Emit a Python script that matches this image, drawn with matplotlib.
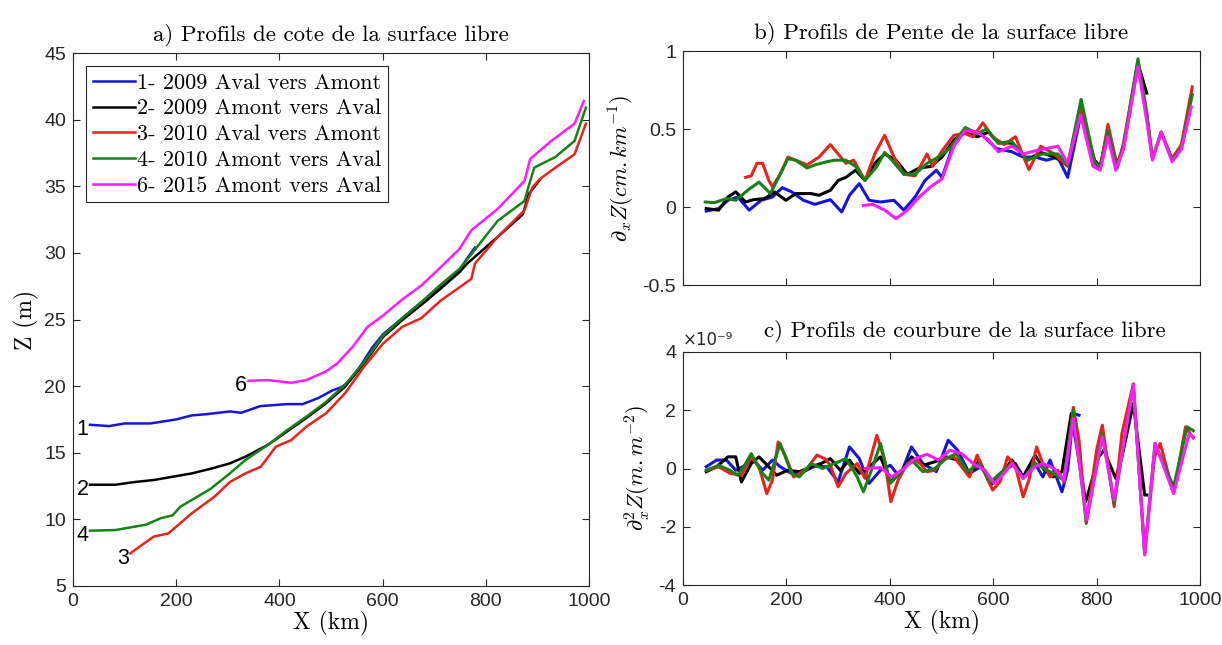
import numpy as np
import matplotlib
matplotlib.use("Agg")
import matplotlib.pyplot as plt

plt.rcParams['mathtext.fontset'] = 'cm'
plt.rcParams['axes.unicode_minus'] = False

SERIF = 'cmr10'
SANS = 'Liberation Sans'

colors = ['#1515d8', '#000000', '#e8231b', '#168216', '#ff1aff']
labels = ['1- 2009 Aval vers Amont', '2- 2009 Amont vers Aval', '3- 2010 Aval vers Amont',
          '4- 2010 Amont vers Aval', '6- 2015 Amont vers Aval']
tags = ['1', '2', '3', '4', '6']

# a) water surface elevation Z (m) vs X (km)
xa1 = [33, 70, 100, 150, 200, 230, 260, 304, 326, 363, 415, 445, 475, 504, 519, 534, 556, 580, 601, 638, 675, 712, 749, 764, 779]
za1 = [17.1, 17.0, 17.2, 17.2, 17.5, 17.8, 17.9, 18.1, 18.0, 18.5, 18.65, 18.65, 19.1, 19.7, 19.9, 20.3, 21.45, 22.9, 23.9, 25.1, 26.3, 27.5, 28.7, 29.6, 30.4]
xa2 = [33, 82, 119, 156, 193, 230, 267, 304, 334, 378, 415, 452, 490, 527, 564, 601, 638, 675, 712, 749, 764, 823, 872, 883, 905]
za2 = [12.6, 12.6, 12.8, 12.95, 13.2, 13.45, 13.8, 14.2, 14.7, 15.6, 16.6, 17.6, 18.7, 19.95, 21.7, 23.7, 24.95, 26.1, 27.3, 28.55, 29.2, 31.2, 32.9, 34.4, 35.5]
xa3 = [111, 156, 185, 230, 274, 304, 334, 364, 393, 423, 452, 490, 527, 564, 601, 638, 675, 712, 772, 779, 823, 875, 890, 905, 935, 972, 994]
za3 = [7.45, 8.7, 8.95, 10.45, 11.7, 12.8, 13.45, 13.95, 15.45, 15.95, 16.95, 17.95, 19.45, 21.45, 23.2, 24.45, 25.1, 26.4, 28.05, 29.2, 31.2, 33.2, 34.9, 35.55, 36.4, 37.4, 39.7]
xa4 = [33, 82, 119, 141, 171, 193, 208, 230, 267, 304, 334, 378, 415, 452, 490, 527, 564, 601, 638, 675, 712, 749, 772, 823, 875, 883, 894, 935, 972, 994]
za4 = [9.15, 9.2, 9.45, 9.6, 10.1, 10.3, 10.95, 11.45, 12.3, 13.45, 14.45, 15.6, 16.7, 17.7, 18.8, 20.1, 21.8, 23.8, 25.1, 26.3, 27.6, 28.8, 29.9, 32.4, 33.9, 35.0, 36.4, 37.2, 38.4, 40.9]
xa6 = [340, 378, 423, 452, 490, 512, 542, 571, 601, 638, 675, 712, 749, 772, 823, 875, 886, 927, 972, 990]
za6 = [20.4, 20.45, 20.25, 20.45, 21.1, 21.7, 22.95, 24.45, 25.3, 26.5, 27.55, 28.9, 30.3, 31.7, 33.3, 35.4, 37.05, 38.4, 39.7, 41.4]

# b) slope (cm/km)
xb1 = [45, 69, 87, 106, 128, 151, 173, 192, 210, 233, 255, 285, 307, 322, 341, 360, 382, 408, 427, 449, 468, 490, 501, 524, 546, 576, 606, 636, 658, 681, 703, 725, 744, 770]
yb1 = [-0.026, -0.01, 0.043, 0.064, -0.02, 0.043, 0.064, 0.124, 0.097, 0.043, 0.017, 0.047, -0.032, 0.075, 0.15, 0.043, 0.032, 0.043, -0.02, 0.064, 0.17, 0.236, 0.19, 0.41, 0.5, 0.47, 0.375, 0.354, 0.32, 0.32, 0.3, 0.32, 0.19, 0.6]
xb2 = [45, 69, 87, 102, 121, 136, 158, 177, 199, 218, 248, 263, 285, 300, 315, 334, 352, 371, 390, 412, 434, 457, 479, 501, 524, 546, 569, 591, 610, 636, 666, 692, 718, 744, 770, 796, 807, 822, 837, 852, 880, 897]
yb2 = [-0.01, -0.02, 0.064, 0.097, 0.032, 0.047, 0.054, 0.097, 0.043, 0.086, 0.086, 0.075, 0.107, 0.17, 0.19, 0.236, 0.17, 0.28, 0.34, 0.3, 0.21, 0.25, 0.26, 0.32, 0.43, 0.48, 0.45, 0.48, 0.41, 0.41, 0.3, 0.35, 0.32, 0.27, 0.62, 0.3, 0.26, 0.5, 0.26, 0.38, 0.92, 0.73]
xb3 = [121, 132, 143, 154, 166, 173, 188, 203, 218, 240, 263, 285, 300, 315, 330, 352, 371, 390, 408, 427, 449, 472, 483, 501, 524, 546, 561, 580, 599, 621, 643, 669, 692, 718, 744, 770, 796, 807, 822, 840, 852, 880, 897, 908, 925, 946, 964, 985]
yb3 = [0.19, 0.2, 0.28, 0.28, 0.17, 0.13, 0.21, 0.32, 0.3, 0.27, 0.32, 0.4, 0.34, 0.28, 0.3, 0.17, 0.34, 0.46, 0.32, 0.21, 0.2, 0.34, 0.26, 0.36, 0.46, 0.47, 0.45, 0.54, 0.45, 0.4, 0.45, 0.24, 0.39, 0.34, 0.26, 0.65, 0.28, 0.25, 0.53, 0.26, 0.41, 0.93, 0.6, 0.31, 0.48, 0.31, 0.4, 0.77]
xb4 = [43, 61, 84, 102, 125, 147, 169, 188, 203, 218, 240, 255, 278, 293, 315, 334, 352, 375, 390, 404, 427, 449, 472, 494, 516, 546, 569, 587, 610, 636, 666, 695, 725, 744, 770, 796, 807, 822, 840, 852, 880, 897, 908, 925, 946, 964, 985]
yb4 = [0.032, 0.028, 0.054, 0.043, 0.107, 0.16, 0.086, 0.21, 0.31, 0.3, 0.25, 0.27, 0.29, 0.3, 0.3, 0.26, 0.17, 0.26, 0.35, 0.3, 0.21, 0.21, 0.28, 0.32, 0.375, 0.51, 0.47, 0.5, 0.41, 0.42, 0.3, 0.34, 0.34, 0.27, 0.69, 0.29, 0.25, 0.49, 0.25, 0.39, 0.95, 0.6, 0.31, 0.48, 0.3, 0.38, 0.72]
xb6 = [349, 367, 390, 412, 434, 457, 479, 501, 524, 546, 569, 591, 610, 636, 658, 681, 703, 725, 744, 769, 793, 807, 822, 837, 852, 880, 897, 908, 925, 946, 964, 983]
yb6 = [0.01, 0.017, -0.02, -0.075, -0.02, 0.064, 0.13, 0.18, 0.39, 0.49, 0.48, 0.43, 0.354, 0.39, 0.34, 0.36, 0.375, 0.39, 0.28, 0.59, 0.26, 0.236, 0.45, 0.236, 0.37, 0.9, 0.55, 0.3, 0.48, 0.29, 0.37, 0.64]

# c) curvature (x 1e-9 m/m^2)
xc1 = [45, 65, 84, 102, 121, 136, 154, 173, 188, 210, 233, 255, 278, 300, 322, 341, 360, 382, 401, 419, 442, 464, 490, 513, 531, 554, 576, 599, 621, 643, 658, 677, 696, 710, 733, 744, 755, 766]
yc1 = [0.06, 0.29, 0.29, -0.06, 0.11, 0.31, -0.06, 0.29, 0.06, -0.17, -0.11, 0.08, 0.06, -0.46, 0.74, 0.34, -0.51, -0.06, 0.11, -0.29, 0.74, 0.17, -0.11, 0.97, 0.63, -0.17, 0.06, -0.51, -0.06, 0.17, -0.29, 0.29, -0.29, 0.29, -0.8, -0.06, 1.89, 1.83]
xc2 = [45, 65, 87, 102, 113, 132, 147, 166, 181, 203, 225, 248, 267, 285, 304, 322, 341, 360, 382, 401, 419, 442, 464, 487, 509, 531, 554, 573, 595, 613, 636, 658, 681, 699, 716, 733, 751, 779, 804, 814, 837, 849, 871, 893, 897]
yc2 = [-0.11, 0.06, 0.4, 0.4, -0.46, 0.17, 0.4, 0.06, -0.23, -0.06, -0.11, 0.06, 0.17, 0.34, -0.06, 0.29, -0.17, 0.06, 0.4, -0.46, -0.17, 0.4, 0.11, 0.23, 0.4, 0.29, -0.23, 0.29, -0.57, -0.29, 0.29, -0.29, 0.46, -0.06, -0.29, -0.11, 1.89, -1.14, 0.4, 0.63, -0.34, 0.4, 2.23, -0.91, -0.91]
xc3 = [46, 69, 91, 113, 132, 147, 162, 173, 184, 199, 214, 240, 259, 274, 285, 300, 315, 337, 352, 375, 390, 402, 416, 434, 453, 472, 487, 505, 524, 539, 554, 569, 584, 599, 613, 628, 643, 658, 669, 684, 696, 710, 725, 737, 755, 766, 780, 800, 811, 834, 849, 871, 893, 912, 923, 949, 972, 987]
yc3 = [-0.06, 0.06, -0.17, -0.23, 0.4, 0.06, -0.86, -0.4, 0.91, 0.4, -0.29, 0.0, 0.46, 0.34, 0.11, -0.63, -0.17, 0.17, -0.34, 1.14, 0.29, -1.14, -0.4, 0.17, 0.29, -0.11, -0.06, 0.34, 0.4, 0.06, -0.29, 0.46, -0.17, -0.74, -0.46, 0.4, 0.06, -0.97, -0.4, 0.74, 0.17, -0.29, -0.06, -0.46, 2.1, 0.97, -1.89, 0.63, 1.49, -1.31, 1.2, 2.91, -2.91, 0.4, 0.86, -0.86, 1.43, 1.05]
xc4 = [45, 69, 91, 106, 121, 132, 151, 166, 188, 210, 225, 248, 270, 293, 315, 337, 349, 367, 382, 401, 419, 442, 464, 487, 509, 528, 550, 573, 595, 613, 636, 658, 681, 699, 716, 737, 755, 780, 811, 834, 871, 893, 913, 949, 975, 987]
yc4 = [-0.06, 0.11, -0.06, -0.23, 0.17, 0.51, -0.11, -0.4, 0.86, -0.17, -0.29, 0.17, 0.0, 0.17, 0.34, -0.29, -0.8, 0.06, 0.86, -0.51, -0.17, 0.29, -0.11, 0.0, 0.34, 0.51, -0.11, 0.17, -0.46, -0.17, 0.17, -0.34, 0.17, 0.0, -0.17, -0.4, 2.0, -1.83, 1.2, -1.2, 2.86, -2.91, 0.86, -0.63, 1.43, 1.3]
xc6 = [352, 382, 404, 427, 449, 472, 494, 516, 539, 561, 584, 602, 621, 636, 658, 681, 696, 718, 737, 755, 781, 811, 834, 871, 893, 913, 949, 979, 987]
yc6 = [0.0, 0.03, -0.29, 0.0, 0.34, 0.49, 0.29, 0.63, 0.51, 0.17, -0.06, -0.51, -0.17, 0.17, -0.34, 0.06, 0.17, 0.0, -0.4, 1.71, -1.77, 1.09, -1.09, 2.86, -2.97, 0.86, -0.86, 1.2, 1.09]

xa = [xa1, xa2, xa3, xa4, xa6]
za = [za1, za2, za3, za4, za6]
xb = [xb1, xb2, xb3, xb4, xb6]
yb = [yb1, yb2, yb3, yb4, yb6]
xc = [xc1, xc2, xc3, xc4, xc6]
yc = [yc1, yc2, yc3, yc4, yc6]


def style(ax):
    ax.tick_params(direction='in', length=5, width=0.8, top=True, right=True,
                   labelsize=14, colors='#262626', pad=5)
    for lab in ax.get_xticklabels() + ax.get_yticklabels():
        lab.set_family(SANS)
    for s in ax.spines.values():
        s.set_color('#262626')
        s.set_linewidth(0.8)


fig = plt.figure(figsize=(12.22, 6.45), dpi=100)
axA = fig.add_axes([73/1222, 59/645, 516/1222, 533/645])
axB = fig.add_axes([683/1222, 360/645, 517/1222, 234/645])
axC = fig.add_axes([683/1222, 60/645, 517/1222, 233/645])

# panel a
for i in range(5):
    axA.plot(xa[i], za[i], color=colors[i], lw=1.8, label=labels[i])
    axA.text(xa[i][0] - 3, za[i][0] - 0.35, tags[i], ha='right', va='center',
             fontsize=15.5, family=SANS)
axA.set_xlim(0, 1000)
axA.set_ylim(5, 45)
axA.set_xticks([0, 200, 400, 600, 800, 1000])
axA.set_yticks(np.arange(5, 46, 5))
style(axA)
axA.set_title('a) Profils de cote de la surface libre', family=SERIF, fontsize=16.5, pad=9)
axA.set_xlabel('X (km)', family=SERIF, fontsize=17, labelpad=1)
axA.set_ylabel('Z (m)', family=SERIF, fontsize=17, labelpad=4)
leg = axA.legend(loc='upper left', prop={'family': SERIF, 'size': 16}, handlelength=1.9,
                 handletextpad=0.1, borderaxespad=0.6, labelspacing=0.28, fancybox=False,
                 framealpha=1, borderpad=0.3)
leg.get_frame().set_edgecolor('#262626')
leg.get_frame().set_linewidth(0.8)

# panel b
for i in range(5):
    axB.plot(xb[i], yb[i], color=colors[i], lw=2.2)
axB.set_xlim(0, 1000)
axB.set_ylim(-0.5, 1)
axB.set_xticks([0, 200, 400, 600, 800, 1000])
axB.set_xticklabels([])
axB.set_yticks([-0.5, 0, 0.5, 1])
axB.set_yticklabels(['-0.5', '0', '0.5', '1'])
style(axB)
axB.set_title('b) Profils de Pente de la surface libre', family=SERIF, fontsize=16.5, pad=9)
axB.set_ylabel(r'$\partial_x Z(cm.km^{-1})$', fontsize=16, labelpad=4)

# panel c
for i in range(5):
    axC.plot(xc[i], np.array(yc[i]) * 1e-9, color=colors[i], lw=2.2)
axC.set_xlim(0, 1000)
axC.set_ylim(-4e-9, 4e-9)
axC.set_xticks([0, 200, 400, 600, 800, 1000])
axC.set_yticks([-4e-9, -2e-9, 0, 2e-9, 4e-9])
axC.set_yticklabels(['-4', '-2', '0', '2', '4'])
style(axC)
axC.text(0.0, 1.015, '×10⁻⁹', transform=axC.transAxes, fontsize=12,
         family='DejaVu Sans', color='#262626', va='bottom', ha='left')
axC.set_title('c) Profils de courbure de la surface libre', family=SERIF, fontsize=16.5,
              pad=11, x=0.545)
axC.set_xlabel('X (km)', family=SERIF, fontsize=17, labelpad=1)
axC.set_ylabel(r'$\partial_x^2 Z(m.m^{-2})$', fontsize=16, labelpad=4)

fig.savefig('out.png', dpi=100)
